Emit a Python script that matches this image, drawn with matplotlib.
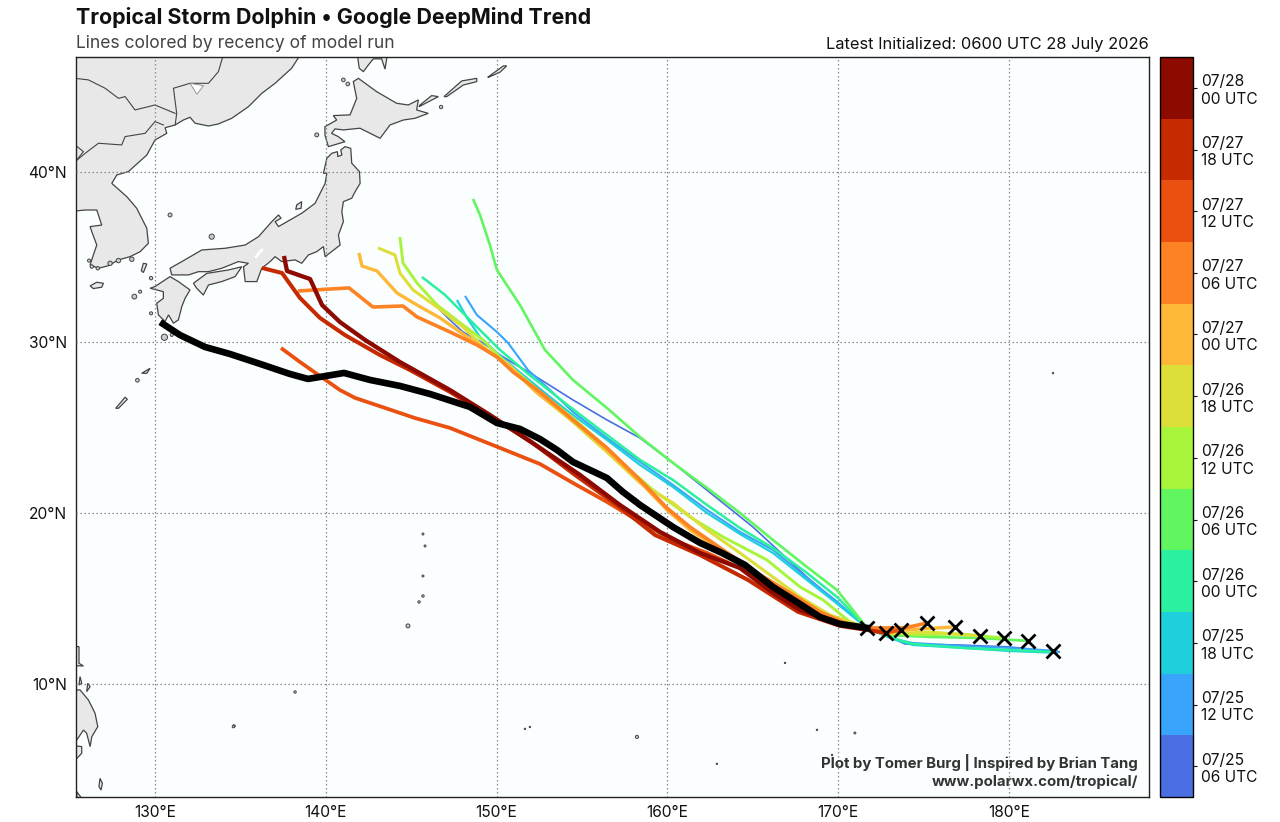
# tropical storm track trend plot, lines colored by model run
import matplotlib
matplotlib.use('Agg')
import numpy as np
from matplotlib import pyplot as plt
from matplotlib.colors import ListedColormap, BoundaryNorm
from matplotlib.cm import ScalarMappable

plt.rcParams['font.family'] = ['Inter', 'DejaVu Sans']

# model runs, oldest first
run_labels = ['07/25\n06 UTC', '07/25\n12 UTC', '07/25\n18 UTC', '07/26\n00 UTC',
              '07/26\n06 UTC', '07/26\n12 UTC', '07/26\n18 UTC', '07/27\n00 UTC',
              '07/27\n06 UTC', '07/27\n12 UTC', '07/27\n18 UTC', '07/28\n00 UTC']
run_colors = ['#4a6fe3', '#38a4fc', '#1fd0dc', '#2bf0a0', '#61f55f', '#a8f43a',
              '#dede38', '#fdb838', '#fd8224', '#ea5010', '#c52a00', '#8c0a00']
run_widths = [1.2, 1.5, 1.6, 1.8, 1.9, 2.1, 2.2, 2.4, 2.6, 2.7, 2.9, 3.1]

# forecast tracks (degrees east, degrees north)
lon_0725_06 = [146.57, 147.27, 148.03, 149.2, 150.02, 150.96, 151.96, 154.47, 156.46, 158.4, 160.33, 165.01, 168.17, 170.1, 171.69, 173.03, 173.91, 177.13, 180.0, 182.99]
lat_0725_06 = [32.01, 31.31, 30.61, 29.97, 29.38, 28.79, 28.21, 26.63, 25.46, 24.4, 22.94, 19.19, 16.26, 14.63, 13.28, 12.75, 12.34, 12.28, 12.17, 11.87]
lon_0725_12 = [148.15, 148.85, 150.02, 150.67, 151.84, 153.13, 154.47, 156.46, 158.4, 160.33, 162.32, 164.25, 166.18, 168.17, 169.81, 171.69, 173.21, 174.38, 177.31, 180.0, 182.87]
lat_0725_12 = [32.72, 31.6, 30.61, 29.97, 28.38, 27.21, 25.93, 24.4, 23.0, 21.65, 20.19, 18.9, 17.85, 16.21, 14.92, 13.28, 12.63, 12.4, 12.22, 12.11, 11.93]
lon_0725_18 = [147.68, 148.27, 149.03, 150.02, 151.2, 153.13, 154.3, 156.46, 158.4, 160.33, 162.32, 164.25, 166.18, 168.17, 169.81, 171.69, 173.21, 174.38, 177.31, 180.0, 182.87]
lat_0725_18 = [32.48, 31.43, 30.32, 29.38, 28.38, 26.8, 25.87, 24.29, 22.82, 21.53, 20.01, 18.78, 17.67, 16.09, 14.8, 13.28, 12.63, 12.28, 12.11, 11.93, 11.82]
lon_0726_00 = [145.63, 146.98, 149.2, 150.2, 151.78, 154.3, 156.46, 158.4, 160.33, 162.32, 164.25, 166.18, 168.17, 169.99, 171.69, 173.21, 174.38, 177.31, 180.0, 182.58]
lat_0726_00 = [33.83, 32.78, 30.55, 29.56, 28.21, 26.22, 24.58, 23.12, 21.94, 20.48, 19.13, 17.96, 16.5, 15.04, 13.28, 12.69, 12.34, 12.11, 11.99, 11.87]
lon_0726_06 = [148.62, 149.03, 149.61, 150.02, 151.37, 152.83, 154.47, 156.46, 158.4, 160.33, 162.32, 164.25, 166.18, 168.17, 169.93, 171.69, 172.74, 175.38, 178.3, 181.11]
lat_0726_06 = [38.4, 37.46, 35.7, 34.24, 32.19, 29.56, 27.8, 26.16, 24.46, 22.94, 21.48, 20.01, 18.43, 16.85, 15.5, 13.28, 12.87, 12.75, 12.69, 12.52]
lon_0726_12 = [144.34, 144.52, 145.34, 146.51, 148.03, 149.2, 150.37, 152.54, 154.47, 156.46, 157.81, 159.16, 161.32, 163.26, 165.83, 167.77, 169.11, 170.69, 171.69, 172.74, 174.79, 177.13, 179.71]
lat_0726_12 = [36.17, 34.65, 33.48, 32.19, 31.02, 30.14, 28.97, 27.1, 25.57, 23.82, 22.53, 21.36, 19.78, 18.61, 17.26, 15.68, 14.92, 13.63, 13.28, 12.99, 12.87, 12.93, 12.69]
lon_0726_18 = [143.06, 144.05, 144.34, 145.11, 146.51, 148.03, 149.61, 150.61, 152.54, 154.47, 156.46, 158.4, 160.33, 162.32, 164.25, 166.18, 167.77, 169.52, 171.69, 172.74, 175.38, 178.3]
lat_0726_18 = [35.53, 35.12, 34.06, 33.07, 32.07, 30.9, 29.38, 28.79, 26.92, 25.34, 23.58, 21.77, 20.6, 19.02, 17.67, 16.26, 15.09, 14.04, 13.28, 12.93, 13.04, 12.81]
lon_0727_00 = [141.94, 142.12, 143.0, 144.17, 145.34, 146.69, 148.27, 149.61, 150.79, 152.37, 154.47, 156.46, 158.4, 159.98, 161.32, 163.26, 165.25, 167.18, 168.94, 170.4, 171.69, 173.03, 174.79, 176.84]
lat_0727_00 = [35.24, 34.47, 34.18, 32.89, 32.19, 31.43, 30.32, 29.44, 28.56, 27.04, 25.46, 23.7, 21.83, 20.19, 19.02, 17.73, 16.38, 15.09, 14.1, 13.45, 13.28, 13.1, 13.22, 13.34]
lon_0727_06 = [138.37, 141.36, 142.76, 144.52, 145.34, 147.27, 148.85, 150.02, 150.96, 152.54, 154.47, 156.46, 158.4, 159.98, 161.32, 163.26, 165.25, 167.18, 168.94, 170.4, 171.69, 172.74, 173.91, 175.2]
lat_0727_06 = [33.01, 33.19, 32.07, 32.13, 31.49, 30.61, 29.85, 29.15, 28.27, 27.1, 25.46, 23.82, 21.94, 20.3, 19.19, 17.85, 16.5, 15.33, 14.22, 13.57, 13.28, 13.28, 13.28, 13.57]
lon_0727_12 = [137.38, 138.49, 140.83, 141.71, 143.47, 145.22, 147.27, 150.2, 152.54, 154.47, 156.46, 158.4, 160.33, 162.32, 164.25, 166.18, 167.65, 168.94, 170.4, 171.69, 172.74, 173.68]
lat_0727_12 = [29.67, 28.85, 27.21, 26.75, 26.16, 25.57, 24.99, 23.82, 22.88, 21.77, 20.66, 19.49, 18.43, 17.67, 16.79, 15.5, 14.57, 13.92, 13.45, 13.16, 12.99, 13.16]
lon_0727_18 = [136.26, 137.44, 138.49, 139.66, 141.12, 143.17, 144.93, 147.27, 149.61, 151.96, 154.59, 157.05, 159.28, 161.91, 164.72, 167.65, 170.11, 171.69, 172.8]
lat_0727_18 = [34.36, 34.06, 32.6, 31.43, 30.43, 29.26, 28.38, 27.1, 25.69, 24.23, 22.24, 20.48, 18.72, 17.55, 16.09, 14.22, 13.4, 13.16, 12.99]
lon_0728_00 = [137.55, 137.73, 139.08, 139.78, 140.83, 142.3, 144.34, 147.27, 149.61, 152.54, 154.88, 157.22, 159.57, 161.91, 164.25, 166.18, 167.76, 170.1, 171.69]
lat_0728_00 = [35.06, 34.18, 33.71, 32.19, 31.19, 30.14, 28.85, 27.21, 25.75, 23.82, 22.24, 20.48, 18.9, 17.67, 16.79, 15.33, 14.33, 13.51, 13.28]

run_lons = [lon_0725_06, lon_0725_12, lon_0725_18, lon_0726_00, lon_0726_06, lon_0726_12,
            lon_0726_18, lon_0727_00, lon_0727_06, lon_0727_12, lon_0727_18, lon_0728_00]
run_lats = [lat_0725_06, lat_0725_12, lat_0725_18, lat_0726_00, lat_0726_06, lat_0726_12,
            lat_0726_18, lat_0727_00, lat_0727_06, lat_0727_12, lat_0727_18, lat_0728_00]

# latest run in black
latest_lon = [130.47, 131.46, 132.93, 134.39, 136.15, 137.9, 138.96, 141.07, 142.59, 144.34, 146.1, 148.44, 150.02, 151.37, 152.54, 153.54, 154.47, 156.46, 157.4, 158.4, 160.33, 161.91, 163.2, 164.54, 166.18, 167.76, 168.93, 170.1, 171.69]
latest_lat = [31.08, 30.43, 29.73, 29.32, 28.74, 28.15, 27.86, 28.21, 27.8, 27.45, 26.98, 26.22, 25.28, 24.93, 24.34, 23.7, 23.0, 22.06, 21.24, 20.48, 19.19, 18.26, 17.67, 16.97, 15.68, 14.68, 13.92, 13.51, 13.28]

# initial positions
init_lon = [171.69, 172.8, 173.68, 175.2, 176.84, 178.3, 179.71, 181.11, 182.58]
init_lat = [13.28, 12.99, 13.16, 13.57, 13.34, 12.81, 12.69, 12.52, 11.93]

# land outlines
asia = [(138.5, 46.83), (138.0, 46.05), (137.03, 45.17), (136.25, 44.58), (135.47, 43.8), (134.49, 43.12), (133.71, 42.79), (133.13, 42.67), (132.35, 42.83), (132.05, 43.18), (131.66, 43.02), (131.18, 42.73), (130.59, 42.57), (130.69, 42.24), (130.0, 41.85), (129.52, 40.97), (128.44, 40.0), (127.76, 39.8), (127.47, 39.31), (128.35, 38.53), (128.93, 37.85), (129.52, 36.68), (129.61, 35.8), (129.13, 35.31), (128.54, 35.02), (127.86, 34.83), (127.27, 34.49), (126.69, 34.34), (126.2, 34.53), (126.39, 35.12), (126.59, 35.7), (126.3, 36.48), (126.2, 36.78), (126.88, 36.87), (126.59, 37.75), (125.91, 37.75), (125.32, 37.69), (124.0, 37.69), (124.0, 47.5), (138.5, 47.5)]
honshu = [(140.06, 40.78), (140.35, 41.07), (140.68, 41.17), (140.7, 40.88), (140.94, 40.97), (140.88, 41.27), (141.13, 41.46), (141.46, 41.36), (141.52, 40.49), (141.97, 40.0), (142.01, 39.31), (141.72, 38.83), (141.52, 38.44), (141.03, 38.24), (140.94, 37.66), (141.03, 37.07), (140.74, 36.29), (140.84, 35.7), (139.96, 35.02), (139.86, 35.61), (139.47, 35.31), (138.98, 35.12), (138.59, 34.63), (138.2, 34.83), (137.42, 34.73), (137.03, 35.02), (136.74, 34.73), (136.25, 34.34), (135.96, 33.56), (135.28, 33.56), (135.18, 34.43), (135.47, 34.63), (134.88, 34.73), (133.91, 34.34), (133.13, 34.14), (132.54, 34.14), (131.96, 33.95), (130.98, 33.95), (130.88, 34.34), (131.57, 34.73), (132.74, 35.41), (134.1, 35.51), (135.28, 35.7), (136.06, 36.19), (136.84, 37.07), (137.23, 37.46), (137.38, 37.27), (137.03, 37.07), (137.23, 36.78), (138.59, 37.56), (139.37, 38.14), (139.96, 39.31), (140.06, 39.9), (139.86, 39.9)]
shikoku = [(132.25, 33.46), (133.03, 34.04), (134.3, 34.24), (135.08, 34.43), (134.69, 33.85), (133.91, 33.56), (133.13, 33.36), (132.83, 32.77), (132.44, 33.17)]
kyushu = [(130.0, 33.27), (130.88, 33.85), (131.37, 33.56), (132.05, 33.07), (131.76, 32.58), (131.57, 32.1), (131.37, 31.32), (131.08, 31.12), (130.79, 31.61), (130.59, 31.22), (130.2, 31.61), (130.1, 32.29), (130.49, 32.58), (130.49, 32.97), (130.1, 33.07), (129.71, 33.17)]
hokkaido = [(141.91, 45.46), (141.61, 45.27), (141.81, 44.29), (141.42, 43.32), (140.44, 43.28), (140.64, 43.02), (139.95, 42.63), (139.95, 42.14), (140.15, 41.46), (141.12, 41.75), (140.73, 42.05), (140.34, 42.24), (140.54, 42.5), (141.03, 42.44), (142.0, 42.54), (143.18, 41.95), (143.76, 42.73), (144.54, 43.02), (145.22, 43.12), (146.0, 43.41), (145.32, 43.61), (145.42, 44.2), (144.83, 43.9), (144.15, 44.0), (142.98, 44.68)]
sakhalin = [(141.85, 46.83), (141.96, 46.05), (142.2, 45.85), (142.49, 46.24), (142.78, 46.6), (143.27, 46.6), (143.47, 46.0), (143.6, 46.83)]
kunashir = [(145.46, 43.8), (146.59, 44.39), (146.2, 44.45), (145.52, 43.9)]
iturup = [(146.92, 44.39), (147.96, 45.31), (148.84, 45.46), (148.84, 45.27), (148.05, 45.07), (147.08, 44.39)]
urup = [(149.48, 45.52), (150.4, 46.19), (150.59, 46.19), (150.2, 45.82), (149.52, 45.52)]
sado = [(138.3, 38.05), (138.59, 38.24), (138.55, 37.85), (138.24, 37.79)]
tsushima = [(129.32, 34.63), (129.52, 34.59), (129.32, 34.09), (129.2, 34.2)]
jeju = [(126.2, 33.31), (126.59, 33.52), (126.98, 33.46), (126.88, 33.23), (126.39, 33.15)]
amami = [(129.22, 28.19), (129.71, 28.48), (129.52, 28.19)]
okinawa = [(127.7, 26.14), (128.25, 26.79), (128.38, 26.67), (127.86, 26.14)]
mindanao = [(124.0, 9.65), (125.61, 9.65), (126.1, 9.06), (126.3, 8.67), (126.49, 8.28), (126.65, 7.5), (126.3, 6.91), (126.2, 6.33), (126.0, 7.11), (125.81, 7.3), (125.42, 6.72), (124.0, 6.72)]
mindanao_south = [(124.0, 6.52), (125.71, 6.33), (125.71, 5.94), (125.42, 5.64), (124.0, 5.64)]
samar = [(124.0, 12.28), (125.55, 12.18), (125.55, 11.21), (125.81, 11.05), (124.0, 11.11)]
dinagat = [(125.61, 10.43), (125.71, 10.04), (125.55, 9.94)]
siargao = [(126.06, 10.04), (126.2, 9.84), (126.0, 9.55)]
talaud = [(126.78, 4.47), (126.92, 4.18), (126.84, 3.79), (126.72, 3.99)]
sangihe = [(125.42, 3.69), (125.71, 3.3), (125.42, 3.3)]
land_polys = [asia, honshu, shikoku, kyushu, hokkaido, sakhalin, kunashir, iturup, urup, sado,
              tsushima, jeju, amami, okinawa, mindanao, mindanao_south, samar, dinagat,
              siargao, talaud, sangihe]

# tiny islands
islet_lon = [130.88, 133.32, 139.47, 141.03, 141.29, 129.77, 128.79, 129.13, 129.77, 130.55, 130.98, 128.97, 146.75, 126.14, 126.3, 126.65, 127.37, 127.86, 128.64, 145.69, 145.81, 145.69, 145.69, 145.46, 144.81, 138.2, 134.63, 134.59, 151.66, 151.95, 158.22, 162.9, 166.89, 168.76, 170.98, 169.64, 182.58]
islet_lat = [37.46, 36.19, 42.15, 45.37, 45.13, 33.76, 32.68, 32.97, 31.7, 30.3, 30.44, 27.78, 43.78, 34.79, 34.44, 34.34, 34.63, 34.79, 34.87, 18.78, 18.08, 16.32, 15.15, 14.8, 13.4, 9.53, 7.54, 7.5, 7.37, 7.48, 6.9, 5.32, 11.23, 7.31, 7.13, 5.84, 28.2]
islet_size = [8, 14, 8, 7, 7, 6, 12, 5, 5, 20, 5, 7, 6, 5, 6, 6, 10, 10, 10, 2, 2, 2, 3, 3, 8, 3, 3, 3, 1, 1, 5, 1, 1, 1, 2, 1, 1]

# internal borders and lake
border_1 = [(125.32, 40.58), (125.91, 41.07), (126.69, 41.66), (128.05, 41.56), (128.25, 42.05), (129.42, 42.24), (130.0, 42.93), (130.49, 42.73)]
border_2 = [(125.32, 45.46), (126.1, 45.37), (127.08, 44.88), (127.86, 44.29), (128.25, 44.39), (128.83, 43.61), (130.0, 43.9), (131.18, 43.41)]
border_3 = [(134.0, 46.83), (133.71, 45.85), (133.13, 45.17), (132.05, 45.17), (131.08, 44.88), (131.27, 43.41), (131.18, 42.73)]
border_4 = [(125.32, 41.56), (125.81, 41.17), (125.42, 40.68)]
lake_khanka = [(132.05, 45.17), (132.84, 45.03), (132.45, 44.53)]
lake_biwa = [(135.92, 35.02), (136.25, 35.41)]

lat_ticks = [10, 20, 30, 40]
lon_ticks = [130, 140, 150, 160, 170, 180]

fig = plt.figure(figsize=(12.8, 8.22), dpi=100)
ax = fig.add_axes([75.5/1280, 1-797/822, (1149-75.5)/1280, (797-57)/822])
ax.set_facecolor('#fafeff')

# map
for poly in land_polys:
    ax.fill([p[0] for p in poly], [p[1] for p in poly], facecolor='#e8e8e8',
            edgecolor='#444444', linewidth=0.9, zorder=1)
ax.scatter(islet_lon, islet_lat, s=islet_size, facecolor='#cccccc', edgecolor='#444444',
           linewidth=0.7, zorder=1)
for line in [border_1, border_2, border_3, border_4]:
    ax.plot([p[0] for p in line], [p[1] for p in line], color='#444444', lw=0.8, zorder=1)
ax.fill([p[0] for p in lake_khanka], [p[1] for p in lake_khanka], facecolor='white',
        edgecolor='#888888', lw=0.6, zorder=1)
ax.plot([p[0] for p in lake_biwa], [p[1] for p in lake_biwa], color='white', lw=2, zorder=1)

# grid
ax.grid(True, color='#888888', linestyle=(0, (1.2, 2)), linewidth=0.9, zorder=2)
ax.set_axisbelow(False)

# tracks
for lons, lats, col, lw in zip(run_lons, run_lats, run_colors, run_widths):
    ax.plot(lons, lats, color=col, lw=lw, zorder=3, solid_capstyle='butt')
ax.plot(latest_lon, latest_lat, color='k', lw=4.8, zorder=4)
ax.plot(init_lon, init_lat, linestyle='none', marker='x', color='k', ms=10.5, mew=2.0, zorder=5)

ax.set_xlim(125.345, 188.2)
ax.set_ylim(3.38, 46.71)
ax.set_xticks(lon_ticks)
ax.set_xticklabels([str(v) + '°E' for v in lon_ticks])
ax.set_yticks(lat_ticks)
ax.set_yticklabels([str(v) + '°N' for v in lat_ticks])
ax.tick_params(length=0, labelsize=11.2, pad=6, colors='#111111')
for s in ax.spines.values():
    s.set_linewidth(1.0)
    s.set_color('#222222')

# titles
fig.text(76/1280, 1-23.5/822, 'Tropical Storm Dolphin • Google DeepMind Trend', fontsize=15.4,
         fontweight='bold', color='#111111')
fig.text(76/1280, 1-48/822, 'Lines colored by recency of model run', fontsize=12.6, color='#444444')
fig.text(1149/1280, 1-49/822, 'Latest Initialized: 0600 UTC 28 July 2026', fontsize=11.85,
         ha='right', color='#111111')
ax.text(1138/1280, 1-768/822, 'Plot by Tomer Burg | Inspired by Brian Tang', fontsize=10.8,
        fontweight='bold', color='#333333', ha='right', transform=fig.transFigure, zorder=6)
ax.text(1138/1280, 1-786/822, 'www.polarwx.com/tropical/', fontsize=10.8,
        fontweight='bold', color='#333333', ha='right', transform=fig.transFigure, zorder=6)

# colorbar
cax = fig.add_axes([1160/1280, 1-797/822, 33/1280, (797-57)/822])
cmap = ListedColormap(run_colors)
norm = BoundaryNorm(np.arange(len(run_colors)+1), cmap.N)
cb = fig.colorbar(ScalarMappable(norm=norm, cmap=cmap), cax=cax, spacing='proportional')
cb.set_ticks(np.arange(len(run_labels)) + 0.5)
cb.set_ticklabels(run_labels)
cb.ax.tick_params(length=3, width=0.8, labelsize=11.2, pad=3, colors='#111111')
cb.ax.minorticks_off()
cb.outline.set_linewidth(1.0)

plt.savefig('out.png', dpi=100)
